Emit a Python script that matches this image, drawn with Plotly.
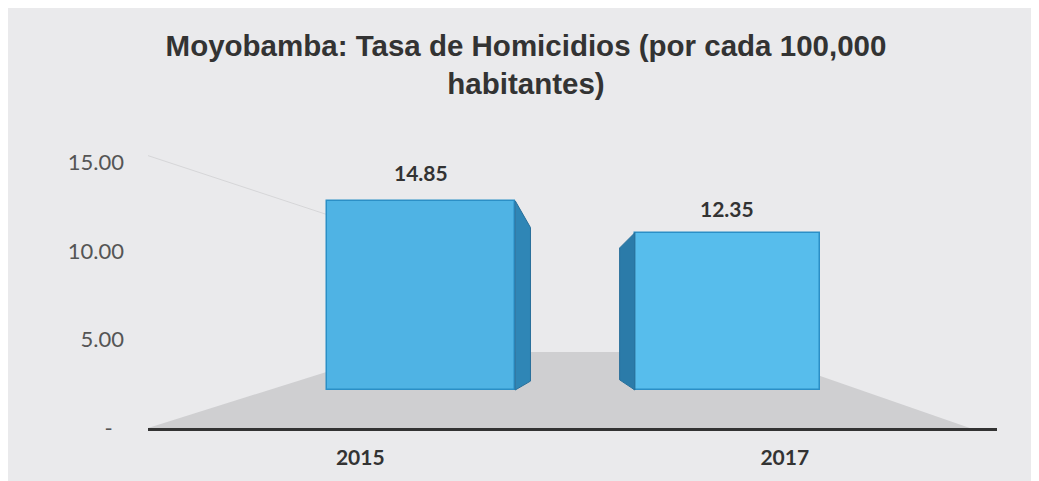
import plotly.graph_objects as go

# ---- data ----
years = ["2015", "2017"]
rates = [14.85, 12.35]
rate_labels = ["14.85", "12.35"]
y_tick_values = [0, 5, 10, 15]
y_tick_labels = ["-\u00a0\u00a0", "5.00", "10.00", "15.00"]

# ---- styling (3D-look approximation) ----
bar_offsets = [-0.078, -0.353]
bar_widths = [0.443, 0.436]
front_colors = ["#4fb3e4", "#57bdec"]
side_colors = ["#2f86b6", "#2b7ba9"]
edge_color = "#2b8fc6"
depth = 0.036          # depth of side face, in category units
side_sign = [1, -1]    # side face to the right for first bar, to the left for second
top_drop = [2.1, 1.2]  # perspective drop of side face top (bar-axis units)
bottom_rise = [0.7, 0.8]
label_shift = [14, 10]

fig = go.Figure()

fig.add_trace(go.Bar(
    x=years, y=rates, yaxis="y2", base=0,
    offset=bar_offsets, width=bar_widths,
    marker=dict(color=front_colors, line=dict(color=edge_color, width=1.5)),
    hoverinfo="x+y", showlegend=False,
))

shapes = []
# floor
shapes.append(dict(
    type="path", xref="x", yref="y", layer="below",
    path="M -0.5 0 L 0.07 4.3 L 0.92 4.3 L 1.436 0 Z",
    fillcolor="#cfcfd1", line=dict(width=0),
))
# faint back-wall edge
shapes.append(dict(
    type="line", xref="x", yref="y", layer="below",
    x0=-0.5, y0=15.4, x1=-0.07, y1=12.0,
    line=dict(color="#d6d6d8", width=1),
))
# side faces
for i, v in enumerate(rates):
    if side_sign[i] > 0:
        xa = i + bar_offsets[i] + bar_widths[i]
    else:
        xa = i + bar_offsets[i]
    xb = xa + side_sign[i] * depth
    path = (f"M {xa} 0 L {xa} {v} L {xb} {v - top_drop[i]} "
            f"L {xb} {bottom_rise[i]} Z")
    shapes.append(dict(
        type="path", xref="x", yref="y2", path=path,
        fillcolor=side_colors[i], line=dict(color="#286f9a", width=1),
    ))

annotations = []
for i, v in enumerate(rates):
    cx = i + bar_offsets[i] + bar_widths[i] / 2
    annotations.append(dict(
        x=cx, y=v, xref="x", yref="y2", text=f"<b>{rate_labels[i]}</b>",
        showarrow=False, yanchor="bottom", yshift=label_shift[i],
        font=dict(family="Lato", size=21, color="#333333"),
    ))

fig.update_layout(
    width=1031, height=473,
    margin=dict(l=140, r=42, t=137, b=53),
    paper_bgcolor="#eaeaec", plot_bgcolor="rgba(0,0,0,0)",
    title=dict(
        text="<b>Moyobamba: Tasa de Homicidios (por cada 100,000<br>habitantes)</b>",
        x=0.5024, xanchor="center", xref="container",
        y=0.899, yanchor="top", yref="container",
        font=dict(family="Liberation Sans", size=29.5, color="#333333"),
    ),
    xaxis=dict(
        type="category", range=[-0.5, 1.5], showgrid=False, zeroline=False,
        showline=True, linecolor="#333333", linewidth=2.5, ticks="",
        ticklabelstandoff=9, automargin=False,
        tickfont=dict(family="Lato", size=21, color="#333333", weight="bold"),
    ),
    yaxis=dict(
        range=[0, 16], showgrid=False, zeroline=False, showline=False,
        tickvals=y_tick_values, ticktext=y_tick_labels, ticks="",
        ticklabelstandoff=23, automargin=False,
        tickfont=dict(family="Lato", size=22, color="#555555"),
    ),
    yaxis2=dict(
        overlaying="y", range=[-2.98, 19.23], visible=False,
    ),
    shapes=shapes, annotations=annotations,
    bargap=0,
)

fig.write_html("out.html")
